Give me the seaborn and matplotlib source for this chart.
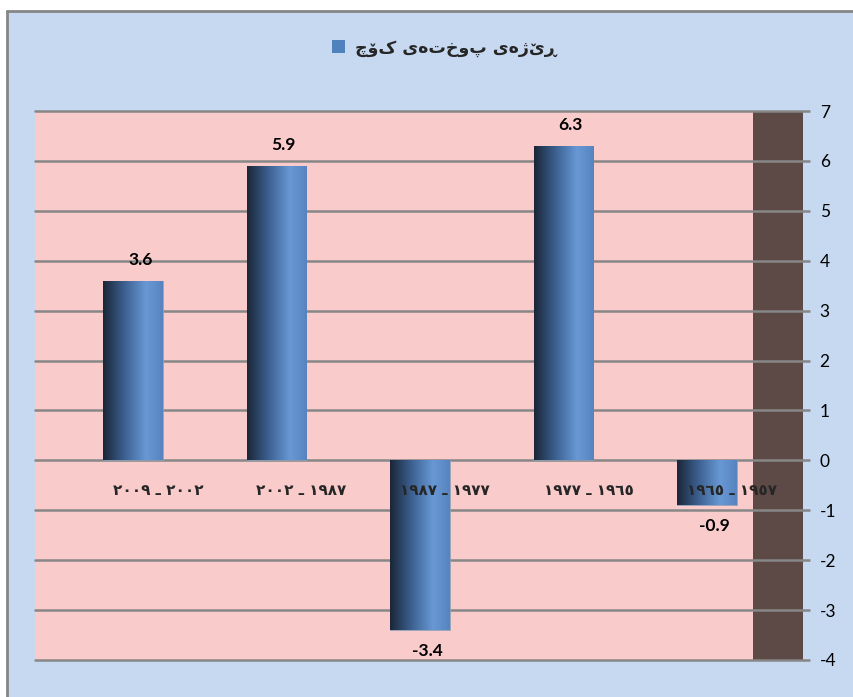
import matplotlib
matplotlib.use("Agg")
import matplotlib.pyplot as plt
import seaborn as sns
import pandas as pd
import numpy as np
from matplotlib.colors import LinearSegmentedColormap
from matplotlib.lines import Line2D
from matplotlib.patches import Rectangle, Patch

# داتا - periods in chronological order (logical RTL text)
periods = ["١٩٥٧ ـ ١٩٦٥", "١٩٦٥ ـ ١٩٧٧", "١٩٧٧ ـ ١٩٨٧", "١٩٨٧ ـ ٢٠٠٢", "٢٠٠٢ ـ ٢٠٠٩"]
rates = [-0.9, 6.3, -3.4, 5.9, 3.6]
series_name = "ڕێژەی پوختەی کۆچ"
y_ticks = [-4, -3, -2, -1, 0, 1, 2, 3, 4, 5, 6, 7]

# chart is right-to-left: newest period on the left
order = periods[::-1]

W, H = 854, 697
bg_blue = "#c6d9f0"
pink = "#f9cbcb"
wall = "#5d4a47"
grid_gray = "#878787"


def rtl_words(s):
    # matplotlib has no bidi: put words in visual order
    return " ".join(s.split(" ")[::-1])


def rtl_chars(s):
    return s[::-1]


sns.set_theme(style="white")
plt.rcParams["font.family"] = ["Lato", "DejaVu Sans"]

fig = plt.figure(figsize=(W / 100, H / 100), dpi=100)
fig.patch.set_facecolor("white")
fig.add_artist(Rectangle((8 / W, 0), 1, 1 - 11 / H, transform=fig.transFigure,
                         facecolor=bg_blue, edgecolor="none", zorder=-2))
fig.add_artist(Line2D([7.5 / W, 7.5 / W], [0, 1 - 10.5 / H], transform=fig.transFigure,
                      color="#868686", lw=2))
fig.add_artist(Line2D([7.5 / W, 1], [1 - 10.5 / H, 1 - 10.5 / H], transform=fig.transFigure,
                      color="#868686", lw=2))

ax = fig.add_axes([35 / W, 1 - 660 / H, (803 - 35) / W, (660 - 111) / H])
ax.set_facecolor(pink)

df = pd.DataFrame({"period": periods, "rate": rates})
sns.barplot(data=df, x="period", y="rate", order=order, width=0.418,
            color="#4f81bd", ax=ax, zorder=3, saturation=1)
bars = list(ax.patches)

x_left, x_right = -0.683, 4.669
wall_x = 4.321

# gradient fill on each bar
cmap = LinearSegmentedColormap.from_list(
    "bar", [(0, "#1b2637"), (0.35, "#3b5f8f"), (0.72, "#6898d5"), (1, "#5784bf")])
grad = np.linspace(0, 1, 256).reshape(1, -1)
for p in bars:
    x0, y0 = p.get_x(), p.get_y()
    w, h = p.get_width(), p.get_height()
    im = ax.imshow(grad, cmap=cmap, aspect="auto", zorder=3.5,
                   extent=[x0, x0 + w, min(y0, y0 + h), max(y0, y0 + h)])
    im.set_clip_path(p)
    p.set_facecolor("none")
    p.set_edgecolor("#8a9fb8")
    p.set_linewidth(0.6)

ax.axvspan(wall_x, x_right, color=wall, zorder=0.5, lw=0)
for y in y_ticks:
    ax.axhline(y, color=grid_gray, lw=1.8, zorder=1, clip_on=False)

ax.set_xlim(x_left, x_right)
ax.set_ylim(-4, 7)

# value labels
for i, per in enumerate(order):
    v = rates[periods.index(per)]
    if v >= 0:
        ax.text(i + 0.05, v + 0.25, f"{v:.1f}", ha="center", va="bottom",
                fontsize=12.5, fontweight="bold", color="black", zorder=5)
    else:
        ax.text(i + 0.05, v - 0.25, f"{v:.1f}", ha="center", va="top",
                fontsize=12.5, fontweight="bold", color="black", zorder=5)
    ax.text(i + 0.175, -0.6, rtl_words(per), ha="center", va="center",
            fontsize=11, fontweight="bold", family=["DejaVu Sans"], zorder=5)

ax.set_xlabel("")
ax.set_ylabel("")
ax.set_xticks([])
ax.yaxis.tick_right()
ax.set_yticks(y_ticks)
ax.set_yticklabels([str(t) for t in y_ticks])
ax.tick_params(axis="y", right=True, length=5, width=1.8, color=grid_gray,
               pad=7, labelsize=12.5, labelcolor="black")
for s in ax.spines.values():
    s.set_visible(False)

# legend
handle = Patch(facecolor="#4f81bd", edgecolor="none")
leg = fig.legend([handle], [rtl_chars(series_name)], loc="center",
                 bbox_to_anchor=(444 / W, 1 - 48 / H), frameon=False,
                 handlelength=0.75, handleheight=0.75, handletextpad=0.6,
                 prop={"family": ["DejaVu Sans"], "weight": "bold", "size": 12.5})

fig.savefig("out.png", dpi=100)
